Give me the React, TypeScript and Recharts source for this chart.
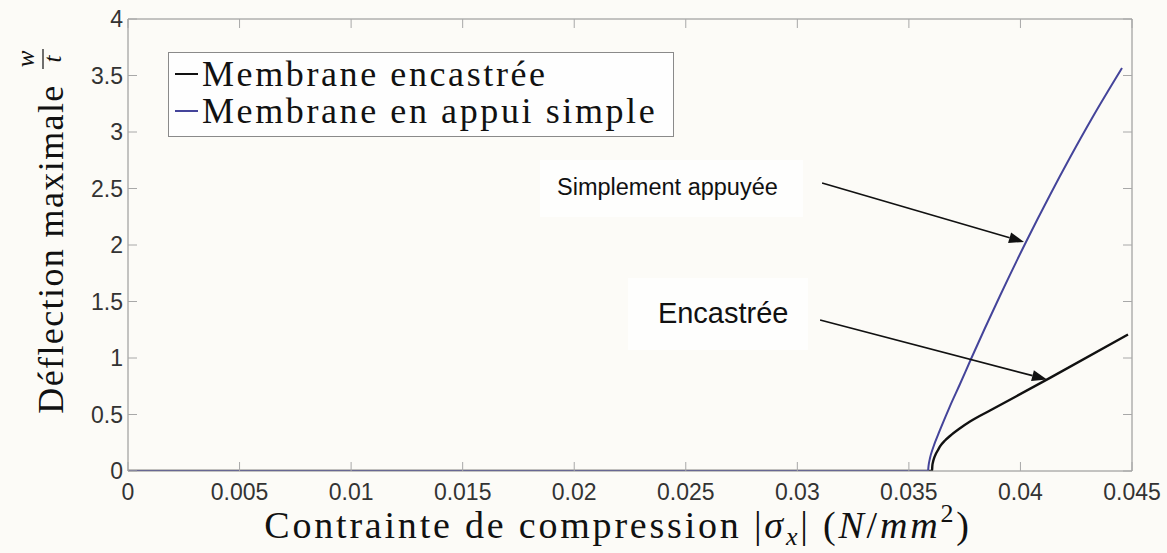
import React from "react";
import {
  LineChart,
  Line,
  XAxis,
  YAxis,
  Legend,
  Label,
  ReferenceLine,
  ReferenceDot,
} from "recharts";

// ---------- data ----------
const X_TICKS = [0, 0.005, 0.01, 0.015, 0.02, 0.025, 0.03, 0.035, 0.04, 0.045];
const X_TICK_LABELS = ["0", "0.005", "0.01", "0.015", "0.02", "0.025", "0.03", "0.035", "0.04", "0.045"];
const Y_TICKS = [0, 0.5, 1, 1.5, 2, 2.5, 3, 3.5, 4];
const Y_TICK_LABELS = ["0", "0.5", "1", "1.5", "2", "2.5", "3", "3.5", "4"];

const SERIES_NAMES = ["Membrane encastrée", "Membrane en appui simple"];

const ENCASTREE_X = [0, 0.0358, 0.036036, 0.03605, 0.036081, 0.036126, 0.036216, 0.036305, 0.036395, 0.036619, 0.036843, 0.037291, 0.037739, 0.038636, 0.041325, 0.044821];
const ENCASTREE_Y = [0, 0, 0, 0.044, 0.08, 0.111, 0.155, 0.186, 0.217, 0.27, 0.31, 0.378, 0.438, 0.535, 0.824, 1.208];

const APPUI_X = [0, 0.0358, 0.035857, 0.03588, 0.035947, 0.036081, 0.036395, 0.036843, 0.037291, 0.037784, 0.039084, 0.040249, 0.041325, 0.042222, 0.043252, 0.044552];
const APPUI_Y = [0, 0, 0, 0.044, 0.115, 0.204, 0.363, 0.575, 0.77, 0.991, 1.551, 2.027, 2.443, 2.774, 3.137, 3.566];

// annotations (data coordinates)
const ANNOT_TEXTS = ["Simplement appuyée", "Encastrée"];
const ANNOT_X = [0.01923, 0.02375];
const ANNOT_Y = [2.442, 1.31];
const ARROW_FROM_X = [0.03111, 0.03102];
const ARROW_FROM_Y = [2.549, 1.336];
const ARROW_TO_X = [0.04016, 0.04119];
const ARROW_TO_Y = [2.027, 0.81];

// ---------- style ----------
const BG = "#fcfbf7";
const BLACK = "#111111";
const BLUE = "#44449a";
const FRAME = "#8a8a8a";
const TICK_COLOR = "#a8a8a8";
const SERIF = '"Liberation Serif", "Times New Roman", serif';
const SANS = '"Liberation Sans", Arial, sans-serif';
const SERIES_COLORS = [BLACK, BLUE];
const ANNOT_FONT = [23.5, 29];
const ANNOT_BOX = [
  { dx: -17, dy: -35, w: 263, h: 57 },
  { dx: -30, dy: -45, w: 180, h: 72 },
];

const encData = ENCASTREE_X.map((x, i) => ({ x, y: ENCASTREE_Y[i] }));
const appData = APPUI_X.map((x, i) => ({ x, y: APPUI_Y[i] }));

const BottomTick = (props: any) => {
  const { x, y, payload } = props;
  const idx = X_TICKS.indexOf(payload.value);
  return (
    <g>
      <line x1={x} y1={y} x2={x} y2={y - 9} stroke={TICK_COLOR} strokeWidth={1} />
      <text x={x} y={y + 29} textAnchor="middle" fontFamily={SANS} fontSize={23} fill="#333">
        {idx >= 0 ? X_TICK_LABELS[idx] : String(payload.value)}
      </text>
    </g>
  );
};

const TopTick = (props: any) => {
  const { x, y } = props;
  return <line x1={x} y1={y} x2={x} y2={y + 9} stroke={TICK_COLOR} strokeWidth={1} />;
};

const LeftTick = (props: any) => {
  const { x, y, payload } = props;
  const idx = Y_TICKS.indexOf(payload.value);
  return (
    <g>
      <line x1={x} y1={y} x2={x + 9} y2={y} stroke={TICK_COLOR} strokeWidth={1} />
      <text x={x - 5} y={y} dy="0.36em" textAnchor="end" fontFamily={SANS} fontSize={23} fill="#333">
        {idx >= 0 ? Y_TICK_LABELS[idx] : String(payload.value)}
      </text>
    </g>
  );
};

const RightTick = (props: any) => {
  const { x, y } = props;
  return <line x1={x} y1={y} x2={x - 9} y2={y} stroke={TICK_COLOR} strokeWidth={1} />;
};

const XTitle = (props: any) => {
  const vb = props.viewBox || { x: 128, y: 471, width: 1004 };
  const cx = vb.x + vb.width / 2 - 12;
  const by = vb.y + 67;
  return (
    <text x={cx} y={by} textAnchor="middle" fontFamily={SERIF} fontSize={38} fill="#111" style={{ letterSpacing: "2.8px" }}>
      Contrainte de compression |<tspan fontStyle="italic">σ</tspan>
      <tspan fontStyle="italic" fontSize={26} dy={7}>x</tspan>
      <tspan dy={-7}>| (</tspan>
      <tspan fontStyle="italic">N</tspan>/<tspan fontStyle="italic">mm</tspan>
      <tspan fontSize={26} dy={-16}>2</tspan>
      <tspan dy={16}>)</tspan>
    </text>
  );
};

const YTitle = (props: any) => {
  const vb = props.viewBox || { x: 68, y: 19, width: 60, height: 452 };
  const bx = vb.x - 5;
  const cy = vb.y + 210;
  return (
    <g transform={`translate(${bx}, ${cy}) rotate(-90)`}>
      <text x={-20} y={0} textAnchor="middle" fontFamily={SERIF} fontSize={36} fill="#111" style={{ letterSpacing: "1.4px" }}>
        Déflection maximale
      </text>
      <text x={170} y={-29} textAnchor="middle" fontFamily={SERIF} fontStyle="italic" fontSize={25} fill="#111">w</text>
      <line x1={160} y1={-20} x2={180} y2={-20} stroke="#111" strokeWidth={1.2} />
      <text x={170} y={-2} textAnchor="middle" fontFamily={SERIF} fontStyle="italic" fontSize={25} fill="#111">t</text>
    </g>
  );
};

const LegendBox = () => (
  <div
    style={{
      width: 506,
      height: 85,
      boxSizing: "border-box",
      border: `1px solid ${FRAME}`,
      background: "#fefefe",
      position: "relative",
      fontFamily: SERIF,
      fontSize: 36,
      color: "#111",
    }}
  >
    {SERIES_NAMES.map((name, i) => (
      <div
        key={name}
        style={{
          position: "absolute",
          left: 6,
          top: 3 + i * 37,
          height: 36,
          lineHeight: "36px",
          display: "flex",
          alignItems: "center",
          whiteSpace: "nowrap",
        }}
      >
        <span style={{ display: "inline-block", width: 23, height: 2, background: SERIES_COLORS[i], marginRight: 4 }} />
        <span style={{ letterSpacing: "2.6px" }}>{name}</span>
      </div>
    ))}
  </div>
);

const makeArrow = (i: number) => (props: any) => {
  const { x1, y1, x2, y2 } = props;
  if ([x1, y1, x2, y2].some((v) => typeof v !== "number" || isNaN(v))) return <g />;
  const ang = Math.atan2(y2 - y1, x2 - x1);
  const L = 15;
  const W = 5.5;
  const bx = x2 - L * Math.cos(ang);
  const by = y2 - L * Math.sin(ang);
  const px = -Math.sin(ang);
  const py = Math.cos(ang);
  return (
    <g>
      <line x1={x1} y1={y1} x2={bx} y2={by} stroke="#111" strokeWidth={1.7} />
      <polygon
        points={`${x2},${y2} ${bx + px * W},${by + py * W} ${bx - px * W},${by - py * W}`}
        fill="#111"
      />
    </g>
  );
};

const makeAnnot = (i: number) => (props: any) => {
  const { cx, cy } = props;
  if (typeof cx !== "number" || typeof cy !== "number") return <g />;
  const b = ANNOT_BOX[i];
  return (
    <g>
      <rect x={cx + b.dx} y={cy + b.dy} width={b.w} height={b.h} fill="#fefefd" />
      <text x={cx} y={cy} fontFamily={SANS} fontSize={ANNOT_FONT[i]} fill="#111">
        {ANNOT_TEXTS[i]}
      </text>
    </g>
  );
};

export default function App() {
  return (
    <div style={{ position: "absolute", left: 0, top: 0, width: 1167, height: 553, background: BG }}>
      <LineChart width={1167} height={553} margin={{ top: 9, right: 25, bottom: 52, left: 68 }}>
        <XAxis
          xAxisId="b"
          type="number"
          dataKey="x"
          domain={[0, 0.045]}
          ticks={X_TICKS}
          interval={0}
          allowDataOverflow
          height={30}
          tickSize={0}
          tickMargin={0}
          tickLine={false}
          axisLine={{ stroke: FRAME, strokeWidth: 1 }}
          tick={<BottomTick />}
        >
          <Label content={<XTitle />} position="bottom" />
        </XAxis>
        <XAxis
          xAxisId="t"
          orientation="top"
          type="number"
          dataKey="x"
          domain={[0, 0.045]}
          ticks={X_TICKS}
          interval={0}
          allowDataOverflow
          height={10}
          tickSize={0}
          tickMargin={0}
          tickLine={false}
          axisLine={{ stroke: FRAME, strokeWidth: 1 }}
          tick={<TopTick />}
        />
        <YAxis
          yAxisId="l"
          type="number"
          domain={[0, 4]}
          ticks={Y_TICKS}
          interval={0}
          allowDataOverflow
          width={60}
          tickSize={0}
          tickMargin={0}
          tickLine={false}
          axisLine={{ stroke: FRAME, strokeWidth: 1 }}
          tick={<LeftTick />}
        >
          <Label content={<YTitle />} position="left" />
        </YAxis>
        <YAxis
          yAxisId="r"
          orientation="right"
          type="number"
          domain={[0, 4]}
          ticks={Y_TICKS}
          interval={0}
          allowDataOverflow
          width={10}
          tickSize={0}
          tickMargin={0}
          tickLine={false}
          axisLine={{ stroke: FRAME, strokeWidth: 1 }}
          tick={<RightTick />}
        />
        <Legend
          layout="vertical"
          align="center"
          verticalAlign="middle"
          content={<LegendBox />}
          wrapperStyle={{ left: 168, top: 52, width: 506, height: 85 }}
        />
        <Line
          xAxisId="b"
          yAxisId="l"
          data={encData}
          dataKey="y"
          name={SERIES_NAMES[0]}
          type="monotone"
          stroke={BLACK}
          strokeWidth={2.4}
          dot={false}
          isAnimationActive={false}
        />
        <Line
          xAxisId="b"
          yAxisId="l"
          data={appData}
          dataKey="y"
          name={SERIES_NAMES[1]}
          type="monotone"
          stroke={BLUE}
          strokeWidth={2}
          dot={false}
          isAnimationActive={false}
        />
        {ANNOT_TEXTS.map((t, i) => (
          <ReferenceDot
            key={t}
            xAxisId="b"
            yAxisId="l"
            x={ANNOT_X[i]}
            y={ANNOT_Y[i]}
            r={0}
            ifOverflow="visible"
            shape={makeAnnot(i)}
          />
        ))}
        {ARROW_FROM_X.map((_, i) => (
          <ReferenceLine
            key={"arrow" + i}
            xAxisId="b"
            yAxisId="l"
            ifOverflow="visible"
            segment={[
              { x: ARROW_FROM_X[i], y: ARROW_FROM_Y[i] },
              { x: ARROW_TO_X[i], y: ARROW_TO_Y[i] },
            ]}
            shape={makeArrow(i)}
          />
        ))}
      </LineChart>
    </div>
  );
}
